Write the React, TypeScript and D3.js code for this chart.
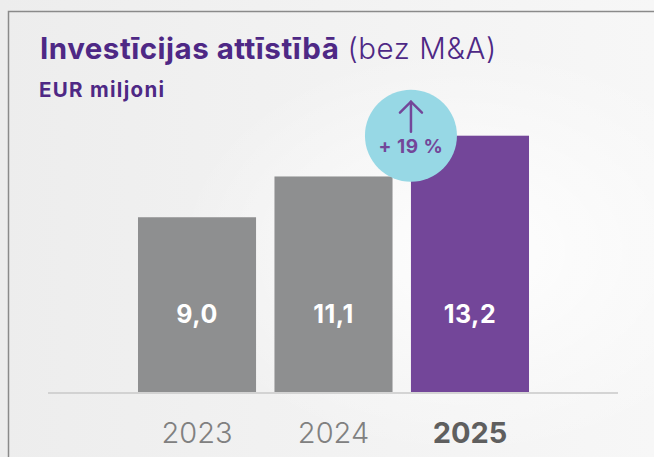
import React from 'react';
import * as d3 from 'd3';

// chart data
const years = ['2023', '2024', '2025'];
const values = [9.0, 11.1, 13.2];
const valueLabels = ['9,0', '11,1', '13,2'];
const growthLabel = '+ 19 %';

const W = 654;
const H = 457;
const FONT = 'Inter, "Open Sans", sans-serif';
const PURPLE_TITLE = '#4e2885';
const PURPLE_BAR = '#734699';
const GRAY_BAR = '#8e8f90';
const CIRCLE = '#97d8e5';

export default function App() {
  const baseY = 392;
  const x = d3.scaleBand<string>()
    .domain(years)
    .range([128.75, 538.25])
    .paddingInner(0.135)
    .paddingOuter(0.0677);
  const y = d3.scaleLinear().domain([0, 13.2]).range([baseY, 135.7]);

  const last = years.length - 1;
  const cx = x(years[last])!;
  const cy = y(values[last]);

  return (
    <svg width={W} height={H} style={{ position: 'absolute', left: 0, top: 0, fontFamily: FONT }}>
      <defs>
        <linearGradient id="bg" x1="0" y1="0" x2="1" y2="0">
          <stop offset="0%" stopColor="#ededed" />
          <stop offset="100%" stopColor="#f7f7f7" />
        </linearGradient>
        <radialGradient id="glow" cx="0.72" cy="0.55" r="0.45">
          <stop offset="0%" stopColor="#ffffff" stopOpacity={0.9} />
          <stop offset="100%" stopColor="#ffffff" stopOpacity={0} />
        </radialGradient>
      </defs>
      <rect width={W} height={H} fill="url(#bg)" />
      <rect width={W} height={H} fill="url(#glow)" />
      <rect x={8.5} y={11.5} width={W} height={H} fill="none" stroke="#8a8a8a" strokeWidth={1.5} />

      {/* title */}
      <text x={40} y={59} fontSize={29.5} fill={PURPLE_TITLE} letterSpacing={0.5}>
        <tspan fontWeight={700}>Investīcijas attīstībā</tspan>
        <tspan fontWeight={300} dx={8} letterSpacing={0.6}>(bez M&amp;A)</tspan>
      </text>
      <text x={39} y={96.5} fontSize={20.5} fontWeight={700} fill={PURPLE_TITLE} letterSpacing={1.3}>EUR miljoni</text>

      {/* bars */}
      {years.map((yr, i) => (
        <g key={yr}>
          <rect
            x={x(yr)}
            y={y(values[i])}
            width={x.bandwidth()}
            height={baseY - y(values[i])}
            fill={i === last ? PURPLE_BAR : GRAY_BAR}
          />
          <text
            x={x(yr)! + x.bandwidth() / 2}
            y={322.5}
            textAnchor="middle"
            fontSize={25}
            fontWeight={700}
            fill="#ffffff"
            letterSpacing={0.5}
          >
            {valueLabels[i]}
          </text>
          <text
            x={x(yr)! + x.bandwidth() / 2}
            y={443}
            textAnchor="middle"
            fontSize={29}
            fontWeight={i === last ? 700 : 300}
            fill={i === last ? '#5f5f5f' : '#808080'}
          >
            {yr}
          </text>
        </g>
      ))}

      {/* baseline */}
      <line x1={48} x2={618} y1={393} y2={393} stroke="#c8c8c8" strokeWidth={1.5} />

      {/* growth badge */}
      <circle cx={cx} cy={cy} r={46} fill={CIRCLE} />
      <g stroke={PURPLE_BAR} strokeWidth={2.5} fill="none" strokeLinecap="round">
        <line x1={cx} x2={cx} y1={cy - 34} y2={cy - 4} />
        <polyline points={`${cx - 11},${cy - 23} ${cx},${cy - 34} ${cx + 11},${cy - 23}`} />
      </g>
      <text x={cx} y={cy + 17.5} textAnchor="middle" fontSize={19} fontWeight={700} fill={PURPLE_BAR} letterSpacing={0.5}>
        {growthLabel}
      </text>
    </svg>
  );
}
